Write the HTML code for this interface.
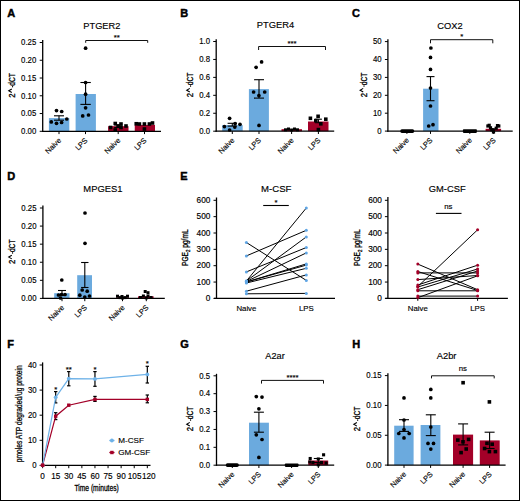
<!DOCTYPE html><html><head><meta charset="utf-8"><style>html,body{margin:0;padding:0;background:#fff;overflow:hidden}svg{display:block}text{font-family:"Liberation Sans",sans-serif;fill:#000;stroke:#000;stroke-width:0.15px}</style></head><body>
<svg width="520" height="501" viewBox="0 0 520 501">
<rect x="0" y="0" width="520" height="501" fill="#fff"/>
<text x="7.2" y="17.2" font-size="11" font-weight="bold" style="stroke-width:0.45px">A</text>
<text x="101.85" y="28.6" font-size="9.8" text-anchor="middle" textLength="37.10" lengthAdjust="spacingAndGlyphs">PTGER2</text>
<rect x="48.9" y="118.1" width="20.4" height="13.2" fill="rgb(107,170,222)"/>
<rect x="75.6" y="94" width="20.3" height="37.3" fill="rgb(107,170,222)"/>
<rect x="108.1" y="126.2" width="20.4" height="5.1" fill="rgb(163,0,40)"/>
<rect x="134.75" y="124.9" width="20.25" height="6.4" fill="rgb(163,0,40)"/>
<line x1="42.7" y1="40" x2="42.7" y2="131.9" stroke="#000" stroke-width="1.3"/>
<line x1="39.7" y1="42.5" x2="42.7" y2="42.5" stroke="#000" stroke-width="1.0"/>
<text x="36.3" y="45.25" font-size="8.2" text-anchor="end" textLength="15.18" lengthAdjust="spacingAndGlyphs">0.25</text>
<line x1="39.7" y1="60.26" x2="42.7" y2="60.26" stroke="#000" stroke-width="1.0"/>
<text x="36.3" y="63.01" font-size="8.2" text-anchor="end" textLength="15.18" lengthAdjust="spacingAndGlyphs">0.20</text>
<line x1="39.7" y1="78.02" x2="42.7" y2="78.02" stroke="#000" stroke-width="1.0"/>
<text x="36.3" y="80.77" font-size="8.2" text-anchor="end" textLength="15.18" lengthAdjust="spacingAndGlyphs">0.15</text>
<line x1="39.7" y1="95.78" x2="42.7" y2="95.78" stroke="#000" stroke-width="1.0"/>
<text x="36.3" y="98.53" font-size="8.2" text-anchor="end" textLength="15.18" lengthAdjust="spacingAndGlyphs">0.10</text>
<line x1="39.7" y1="113.54" x2="42.7" y2="113.54" stroke="#000" stroke-width="1.0"/>
<text x="36.3" y="116.29" font-size="8.2" text-anchor="end" textLength="15.18" lengthAdjust="spacingAndGlyphs">0.05</text>
<line x1="39.7" y1="131.3" x2="42.7" y2="131.3" stroke="#000" stroke-width="1.0"/>
<text x="36.3" y="134.05" font-size="8.2" text-anchor="end" textLength="15.18" lengthAdjust="spacingAndGlyphs">0.00</text>
<line x1="42.1" y1="131.3" x2="161" y2="131.3" stroke="#000" stroke-width="1.3"/>
<g transform="translate(15.3 97.45) rotate(-90)">
<text x="-0.3" y="0" font-size="9.2" style="stroke-width:0.3px" textLength="4.3" lengthAdjust="spacingAndGlyphs">2</text>
<path d="M4.9 -3.5 L6.7 -6.6 L8.5 -3.5" fill="none" stroke="#000" style="stroke-width:1.05px"/>
<path d="M10.1 -2.7 H11.6" fill="none" stroke="#000" style="stroke-width:1.0px"/>
<text x="11.7" y="0" font-size="9.2" style="stroke-width:0.3px" textLength="12.6" lengthAdjust="spacingAndGlyphs">dCT</text>
</g>
<line x1="59" y1="131.3" x2="59" y2="134.1" stroke="#000" stroke-width="1.0"/>
<text x="61.6" y="140.9" font-size="7.4" text-anchor="end" font-weight="normal" transform="rotate(-45 61.6 140.9)">Naive</text>
<line x1="85.5" y1="131.3" x2="85.5" y2="134.1" stroke="#000" stroke-width="1.0"/>
<text x="88.1" y="140.9" font-size="7.4" text-anchor="end" font-weight="normal" transform="rotate(-45 88.1 140.9)">LPS</text>
<line x1="118.2" y1="131.3" x2="118.2" y2="134.1" stroke="#000" stroke-width="1.0"/>
<text x="120.8" y="140.9" font-size="7.4" text-anchor="end" font-weight="normal" transform="rotate(-45 120.8 140.9)">Naive</text>
<line x1="144.5" y1="131.3" x2="144.5" y2="134.1" stroke="#000" stroke-width="1.0"/>
<text x="147.1" y="140.9" font-size="7.4" text-anchor="end" font-weight="normal" transform="rotate(-45 147.1 140.9)">LPS</text>
<circle cx="56.5" cy="110.6" r="1.85" fill="#000"/>
<circle cx="61.7" cy="111.5" r="1.85" fill="#000"/>
<circle cx="66.8" cy="119" r="1.85" fill="#000"/>
<circle cx="51.3" cy="121.9" r="1.85" fill="#000"/>
<circle cx="56.5" cy="123.3" r="1.85" fill="#000"/>
<circle cx="61.6" cy="122.5" r="1.85" fill="#000"/>
<line x1="59" y1="115.8" x2="59" y2="120.2" stroke="#000" stroke-width="1.1"/>
<line x1="54" y1="115.8" x2="64" y2="115.8" stroke="#000" stroke-width="1.1"/>
<line x1="54" y1="120.2" x2="64" y2="120.2" stroke="#000" stroke-width="1.1"/>
<circle cx="85.6" cy="48.2" r="1.85" fill="#000"/>
<circle cx="85.6" cy="82.5" r="1.85" fill="#000"/>
<circle cx="85.6" cy="94.2" r="1.85" fill="#000"/>
<circle cx="85.6" cy="107.8" r="1.85" fill="#000"/>
<circle cx="82.7" cy="115.9" r="1.85" fill="#000"/>
<circle cx="88.5" cy="115" r="1.85" fill="#000"/>
<line x1="85.6" y1="82.5" x2="85.6" y2="104.4" stroke="#000" stroke-width="1.1"/>
<line x1="80.4" y1="82.5" x2="90.8" y2="82.5" stroke="#000" stroke-width="1.1"/>
<line x1="80.4" y1="104.4" x2="90.8" y2="104.4" stroke="#000" stroke-width="1.1"/>
<rect x="108.8" y="125.7" width="3.6" height="3.6" fill="#000"/>
<rect x="113.45" y="121.7" width="3.6" height="3.6" fill="#000"/>
<rect x="113.45" y="128.2" width="3.6" height="3.6" fill="#000"/>
<rect x="116.3" y="124.2" width="3.6" height="3.6" fill="#000"/>
<rect x="119.2" y="122.2" width="3.6" height="3.6" fill="#000"/>
<rect x="119.2" y="125.7" width="3.6" height="3.6" fill="#000"/>
<rect x="124.2" y="124.2" width="3.6" height="3.6" fill="#000"/>
<line x1="118.2" y1="125" x2="118.2" y2="127.5" stroke="#000" stroke-width="1.1"/>
<line x1="114.2" y1="125" x2="122.2" y2="125" stroke="#000" stroke-width="1.1"/>
<line x1="114.2" y1="127.5" x2="122.2" y2="127.5" stroke="#000" stroke-width="1.1"/>
<rect x="134.45" y="121.95" width="3.6" height="3.6" fill="#000"/>
<rect x="137.6" y="122.2" width="3.6" height="3.6" fill="#000"/>
<rect x="142.6" y="122.2" width="3.6" height="3.6" fill="#000"/>
<rect x="142.6" y="127.2" width="3.6" height="3.6" fill="#000"/>
<rect x="147.6" y="122.2" width="3.6" height="3.6" fill="#000"/>
<rect x="150.7" y="121.2" width="3.6" height="3.6" fill="#000"/>
<path d="M85.7 42.8 V40.5 H147.7 V42.8" fill="none" stroke="#111" stroke-width="1.0"/>
<text x="116.7" y="40.2" font-size="7.8" text-anchor="middle" font-weight="normal">**</text>
<text x="180.3" y="17" font-size="11" font-weight="bold" style="stroke-width:0.45px">B</text>
<text x="275.45" y="28.4" font-size="9.8" text-anchor="middle" textLength="37.50" lengthAdjust="spacingAndGlyphs">PTGER4</text>
<rect x="222.2" y="125.1" width="20.5" height="6.1" fill="rgb(107,170,222)"/>
<rect x="248.9" y="89.1" width="20" height="42.1" fill="rgb(107,170,222)"/>
<rect x="281.5" y="129.2" width="20.5" height="2" fill="rgb(163,0,40)"/>
<rect x="308" y="121.5" width="20.5" height="9.7" fill="rgb(163,0,40)"/>
<line x1="216.2" y1="39.2" x2="216.2" y2="131.8" stroke="#000" stroke-width="1.3"/>
<line x1="213.2" y1="41.5" x2="216.2" y2="41.5" stroke="#000" stroke-width="1.0"/>
<text x="210" y="44.25" font-size="8.2" text-anchor="end" textLength="10.84" lengthAdjust="spacingAndGlyphs">1.0</text>
<line x1="213.2" y1="59.44" x2="216.2" y2="59.44" stroke="#000" stroke-width="1.0"/>
<text x="210" y="62.19" font-size="8.2" text-anchor="end" textLength="10.84" lengthAdjust="spacingAndGlyphs">0.8</text>
<line x1="213.2" y1="77.38" x2="216.2" y2="77.38" stroke="#000" stroke-width="1.0"/>
<text x="210" y="80.13" font-size="8.2" text-anchor="end" textLength="10.84" lengthAdjust="spacingAndGlyphs">0.6</text>
<line x1="213.2" y1="95.32" x2="216.2" y2="95.32" stroke="#000" stroke-width="1.0"/>
<text x="210" y="98.07" font-size="8.2" text-anchor="end" textLength="10.84" lengthAdjust="spacingAndGlyphs">0.4</text>
<line x1="213.2" y1="113.26" x2="216.2" y2="113.26" stroke="#000" stroke-width="1.0"/>
<text x="210" y="116.01" font-size="8.2" text-anchor="end" textLength="10.84" lengthAdjust="spacingAndGlyphs">0.2</text>
<line x1="213.2" y1="131.2" x2="216.2" y2="131.2" stroke="#000" stroke-width="1.0"/>
<text x="210" y="133.95" font-size="8.2" text-anchor="end" textLength="10.84" lengthAdjust="spacingAndGlyphs">0.0</text>
<line x1="215.6" y1="131.2" x2="334.2" y2="131.2" stroke="#000" stroke-width="1.3"/>
<g transform="translate(193.3 96.9) rotate(-90)">
<text x="-0.3" y="0" font-size="9.2" style="stroke-width:0.3px" textLength="4.3" lengthAdjust="spacingAndGlyphs">2</text>
<path d="M4.9 -3.5 L6.7 -6.6 L8.5 -3.5" fill="none" stroke="#000" style="stroke-width:1.05px"/>
<path d="M10.1 -2.7 H11.6" fill="none" stroke="#000" style="stroke-width:1.0px"/>
<text x="11.7" y="0" font-size="9.2" style="stroke-width:0.3px" textLength="12.6" lengthAdjust="spacingAndGlyphs">dCT</text>
</g>
<line x1="232.3" y1="131.2" x2="232.3" y2="134" stroke="#000" stroke-width="1.0"/>
<text x="234.9" y="140.8" font-size="7.4" text-anchor="end" font-weight="normal" transform="rotate(-45 234.9 140.8)">Naive</text>
<line x1="259" y1="131.2" x2="259" y2="134" stroke="#000" stroke-width="1.0"/>
<text x="261.6" y="140.8" font-size="7.4" text-anchor="end" font-weight="normal" transform="rotate(-45 261.6 140.8)">LPS</text>
<line x1="291.6" y1="131.2" x2="291.6" y2="134" stroke="#000" stroke-width="1.0"/>
<text x="294.2" y="140.8" font-size="7.4" text-anchor="end" font-weight="normal" transform="rotate(-45 294.2 140.8)">Naive</text>
<line x1="318.4" y1="131.2" x2="318.4" y2="134" stroke="#000" stroke-width="1.0"/>
<text x="321" y="140.8" font-size="7.4" text-anchor="end" font-weight="normal" transform="rotate(-45 321 140.8)">LPS</text>
<circle cx="229.6" cy="118.3" r="1.85" fill="#000"/>
<circle cx="224.4" cy="126.6" r="1.85" fill="#000"/>
<circle cx="229.6" cy="130" r="1.85" fill="#000"/>
<circle cx="235.1" cy="123.5" r="1.85" fill="#000"/>
<circle cx="240" cy="124.3" r="1.85" fill="#000"/>
<circle cx="234.8" cy="127.1" r="1.85" fill="#000"/>
<line x1="232.3" y1="123.3" x2="232.3" y2="126.1" stroke="#000" stroke-width="1.1"/>
<line x1="227.6" y1="123.3" x2="237" y2="123.3" stroke="#000" stroke-width="1.1"/>
<line x1="227.6" y1="126.1" x2="237" y2="126.1" stroke="#000" stroke-width="1.1"/>
<circle cx="256.1" cy="67.3" r="1.85" fill="#000"/>
<circle cx="261.6" cy="61.9" r="1.85" fill="#000"/>
<circle cx="253.6" cy="92" r="1.85" fill="#000"/>
<circle cx="258.9" cy="95.6" r="1.85" fill="#000"/>
<circle cx="264.7" cy="92" r="1.85" fill="#000"/>
<circle cx="259" cy="125.4" r="1.85" fill="#000"/>
<line x1="259" y1="79.7" x2="259" y2="98.1" stroke="#000" stroke-width="1.1"/>
<line x1="254" y1="79.7" x2="264" y2="79.7" stroke="#000" stroke-width="1.1"/>
<line x1="254" y1="98.1" x2="264" y2="98.1" stroke="#000" stroke-width="1.1"/>
<rect x="284" y="128.3" width="3.0" height="3.0" fill="#000"/>
<rect x="287" y="127.5" width="3.0" height="3.0" fill="#000"/>
<rect x="290.1" y="128.5" width="3.0" height="3.0" fill="#000"/>
<rect x="293" y="127.5" width="3.0" height="3.0" fill="#000"/>
<rect x="296" y="128.3" width="3.0" height="3.0" fill="#000"/>
<rect x="308.6" y="116.5" width="3.6" height="3.6" fill="#000"/>
<rect x="316.3" y="114.5" width="3.6" height="3.6" fill="#000"/>
<rect x="324" y="117.4" width="3.6" height="3.6" fill="#000"/>
<rect x="314" y="118.8" width="3.6" height="3.6" fill="#000"/>
<rect x="319" y="122" width="3.6" height="3.6" fill="#000"/>
<rect x="316.6" y="127.8" width="3.6" height="3.6" fill="#000"/>
<line x1="318.4" y1="119.2" x2="318.4" y2="122.7" stroke="#000" stroke-width="1.1"/>
<line x1="314.9" y1="119.2" x2="321.9" y2="119.2" stroke="#000" stroke-width="1.1"/>
<line x1="314.9" y1="122.7" x2="321.9" y2="122.7" stroke="#000" stroke-width="1.1"/>
<path d="M258.6 50 V46.5 H325.5 V50" fill="none" stroke="#111" stroke-width="1.0"/>
<text x="292.05" y="46.2" font-size="7.8" text-anchor="middle" font-weight="normal">***</text>
<text x="352" y="17" font-size="11" font-weight="bold" style="stroke-width:0.45px">C</text>
<text x="450" y="28.7" font-size="9.8" text-anchor="middle" textLength="25.40" lengthAdjust="spacingAndGlyphs">COX2</text>
<rect x="423.1" y="88.7" width="15.4" height="42.4" fill="rgb(107,170,222)"/>
<rect x="485.6" y="128.8" width="15.5" height="2.3" fill="rgb(163,0,40)"/>
<line x1="387.9" y1="39.2" x2="387.9" y2="131.7" stroke="#000" stroke-width="1.3"/>
<line x1="384.9" y1="41.6" x2="387.9" y2="41.6" stroke="#000" stroke-width="1.0"/>
<text x="381.6" y="44.35" font-size="8.2" text-anchor="end" textLength="8.68" lengthAdjust="spacingAndGlyphs">50</text>
<line x1="384.9" y1="59.5" x2="387.9" y2="59.5" stroke="#000" stroke-width="1.0"/>
<text x="381.6" y="62.25" font-size="8.2" text-anchor="end" textLength="8.68" lengthAdjust="spacingAndGlyphs">40</text>
<line x1="384.9" y1="77.4" x2="387.9" y2="77.4" stroke="#000" stroke-width="1.0"/>
<text x="381.6" y="80.15" font-size="8.2" text-anchor="end" textLength="8.68" lengthAdjust="spacingAndGlyphs">30</text>
<line x1="384.9" y1="95.3" x2="387.9" y2="95.3" stroke="#000" stroke-width="1.0"/>
<text x="381.6" y="98.05" font-size="8.2" text-anchor="end" textLength="8.68" lengthAdjust="spacingAndGlyphs">20</text>
<line x1="384.9" y1="113.2" x2="387.9" y2="113.2" stroke="#000" stroke-width="1.0"/>
<text x="381.6" y="115.95" font-size="8.2" text-anchor="end" textLength="8.68" lengthAdjust="spacingAndGlyphs">10</text>
<line x1="384.9" y1="131.1" x2="387.9" y2="131.1" stroke="#000" stroke-width="1.0"/>
<text x="381.6" y="133.85" font-size="8.2" text-anchor="end" textLength="4.34" lengthAdjust="spacingAndGlyphs">0</text>
<line x1="387.3" y1="131.1" x2="512.7" y2="131.1" stroke="#000" stroke-width="1.3"/>
<g transform="translate(366.7 96.9) rotate(-90)">
<text x="-0.3" y="0" font-size="9.2" style="stroke-width:0.3px" textLength="4.3" lengthAdjust="spacingAndGlyphs">2</text>
<path d="M4.9 -3.5 L6.7 -6.6 L8.5 -3.5" fill="none" stroke="#000" style="stroke-width:1.05px"/>
<path d="M10.1 -2.7 H11.6" fill="none" stroke="#000" style="stroke-width:1.0px"/>
<text x="11.7" y="0" font-size="9.2" style="stroke-width:0.3px" textLength="12.6" lengthAdjust="spacingAndGlyphs">dCT</text>
</g>
<line x1="406.9" y1="131.1" x2="406.9" y2="133.9" stroke="#000" stroke-width="1.0"/>
<text x="409.5" y="140.7" font-size="7.4" text-anchor="end" font-weight="normal" transform="rotate(-45 409.5 140.7)">Naive</text>
<line x1="430.5" y1="131.1" x2="430.5" y2="133.9" stroke="#000" stroke-width="1.0"/>
<text x="433.1" y="140.7" font-size="7.4" text-anchor="end" font-weight="normal" transform="rotate(-45 433.1 140.7)">LPS</text>
<line x1="469.8" y1="131.1" x2="469.8" y2="133.9" stroke="#000" stroke-width="1.0"/>
<text x="472.4" y="140.7" font-size="7.4" text-anchor="end" font-weight="normal" transform="rotate(-45 472.4 140.7)">Naive</text>
<line x1="493.6" y1="131.1" x2="493.6" y2="133.9" stroke="#000" stroke-width="1.0"/>
<text x="496.2" y="140.7" font-size="7.4" text-anchor="end" font-weight="normal" transform="rotate(-45 496.2 140.7)">LPS</text>
<rect x="400.3" y="129.2" width="13.9" height="3.7" rx="1.6" fill="#000"/>
<circle cx="430.9" cy="48" r="1.85" fill="#000"/>
<circle cx="430.5" cy="57.4" r="1.85" fill="#000"/>
<circle cx="430.5" cy="69.4" r="1.85" fill="#000"/>
<circle cx="430.5" cy="88" r="1.85" fill="#000"/>
<circle cx="430.5" cy="106" r="1.85" fill="#000"/>
<circle cx="428.7" cy="126" r="1.85" fill="#000"/>
<circle cx="433" cy="124.7" r="1.85" fill="#000"/>
<line x1="430.5" y1="76.6" x2="430.5" y2="100.7" stroke="#000" stroke-width="1.1"/>
<line x1="426.5" y1="76.6" x2="434.5" y2="76.6" stroke="#000" stroke-width="1.1"/>
<line x1="426.5" y1="100.7" x2="434.5" y2="100.7" stroke="#000" stroke-width="1.1"/>
<rect x="462.9" y="129.3" width="14" height="3.6" rx="0.8" fill="#000"/>
<rect x="486.3" y="124.4" width="3.2" height="3.2" fill="#000"/>
<rect x="488.9" y="126.2" width="3.2" height="3.2" fill="#000"/>
<rect x="491.7" y="128.2" width="3.2" height="3.2" fill="#000"/>
<rect x="491.9" y="130.4" width="3.2" height="3.2" fill="#000"/>
<rect x="494.6" y="126.6" width="3.2" height="3.2" fill="#000"/>
<rect x="497.2" y="124.4" width="3.2" height="3.2" fill="#000"/>
<rect x="487.6" y="123.7" width="3.2" height="3.2" fill="#000"/>
<rect x="490.2" y="128.2" width="3.2" height="3.2" fill="#000"/>
<rect x="495.9" y="124" width="3.2" height="3.2" fill="#000"/>
<path d="M430.5 43.3 V39.7 H492.8 V43.3" fill="none" stroke="#111" stroke-width="1.0"/>
<text x="461.65" y="39.4" font-size="7.8" text-anchor="middle" font-weight="normal">*</text>
<text x="7.3" y="180.2" font-size="11" font-weight="bold" style="stroke-width:0.45px">D</text>
<text x="102.9" y="191.9" font-size="9.8" text-anchor="middle" textLength="39.20" lengthAdjust="spacingAndGlyphs">MPGES1</text>
<rect x="54.2" y="293.2" width="15.3" height="5.2" fill="rgb(107,170,222)"/>
<rect x="77.2" y="275.2" width="14.8" height="23.2" fill="rgb(107,170,222)"/>
<rect x="116.3" y="297.4" width="12.5" height="1" fill="rgb(163,0,40)"/>
<rect x="138" y="296.3" width="15.6" height="2.1" fill="rgb(163,0,40)"/>
<line x1="42.9" y1="205.5" x2="42.9" y2="299" stroke="#000" stroke-width="1.3"/>
<line x1="39.9" y1="208" x2="42.9" y2="208" stroke="#000" stroke-width="1.0"/>
<text x="36.5" y="210.75" font-size="8.2" text-anchor="end" textLength="15.18" lengthAdjust="spacingAndGlyphs">0.25</text>
<line x1="39.9" y1="226.08" x2="42.9" y2="226.08" stroke="#000" stroke-width="1.0"/>
<text x="36.5" y="228.83" font-size="8.2" text-anchor="end" textLength="15.18" lengthAdjust="spacingAndGlyphs">0.20</text>
<line x1="39.9" y1="244.16" x2="42.9" y2="244.16" stroke="#000" stroke-width="1.0"/>
<text x="36.5" y="246.91" font-size="8.2" text-anchor="end" textLength="15.18" lengthAdjust="spacingAndGlyphs">0.15</text>
<line x1="39.9" y1="262.24" x2="42.9" y2="262.24" stroke="#000" stroke-width="1.0"/>
<text x="36.5" y="264.99" font-size="8.2" text-anchor="end" textLength="15.18" lengthAdjust="spacingAndGlyphs">0.10</text>
<line x1="39.9" y1="280.32" x2="42.9" y2="280.32" stroke="#000" stroke-width="1.0"/>
<text x="36.5" y="283.07" font-size="8.2" text-anchor="end" textLength="15.18" lengthAdjust="spacingAndGlyphs">0.05</text>
<line x1="39.9" y1="298.4" x2="42.9" y2="298.4" stroke="#000" stroke-width="1.0"/>
<text x="36.5" y="301.15" font-size="8.2" text-anchor="end" textLength="15.18" lengthAdjust="spacingAndGlyphs">0.00</text>
<line x1="42.3" y1="298.4" x2="164.8" y2="298.4" stroke="#000" stroke-width="1.3"/>
<g transform="translate(15.3 263.8) rotate(-90)">
<text x="-0.3" y="0" font-size="9.2" style="stroke-width:0.3px" textLength="4.3" lengthAdjust="spacingAndGlyphs">2</text>
<path d="M4.9 -3.5 L6.7 -6.6 L8.5 -3.5" fill="none" stroke="#000" style="stroke-width:1.05px"/>
<path d="M10.1 -2.7 H11.6" fill="none" stroke="#000" style="stroke-width:1.0px"/>
<text x="11.7" y="0" font-size="9.2" style="stroke-width:0.3px" textLength="12.6" lengthAdjust="spacingAndGlyphs">dCT</text>
</g>
<line x1="62" y1="298.4" x2="62" y2="301.2" stroke="#000" stroke-width="1.0"/>
<text x="64.6" y="308" font-size="7.4" text-anchor="end" font-weight="normal" transform="rotate(-45 64.6 308)">Naive</text>
<line x1="84.8" y1="298.4" x2="84.8" y2="301.2" stroke="#000" stroke-width="1.0"/>
<text x="87.4" y="308" font-size="7.4" text-anchor="end" font-weight="normal" transform="rotate(-45 87.4 308)">LPS</text>
<line x1="122.5" y1="298.4" x2="122.5" y2="301.2" stroke="#000" stroke-width="1.0"/>
<text x="125.1" y="308" font-size="7.4" text-anchor="end" font-weight="normal" transform="rotate(-45 125.1 308)">Naive</text>
<line x1="146.3" y1="298.4" x2="146.3" y2="301.2" stroke="#000" stroke-width="1.0"/>
<text x="148.9" y="308" font-size="7.4" text-anchor="end" font-weight="normal" transform="rotate(-45 148.9 308)">LPS</text>
<circle cx="61.8" cy="280" r="1.85" fill="#000"/>
<circle cx="58.5" cy="295" r="1.85" fill="#000"/>
<circle cx="61.5" cy="294.5" r="1.85" fill="#000"/>
<circle cx="65" cy="294.5" r="1.85" fill="#000"/>
<circle cx="60.5" cy="298" r="1.85" fill="#000"/>
<line x1="62" y1="290.5" x2="62" y2="295.5" stroke="#000" stroke-width="1.1"/>
<line x1="58" y1="290.5" x2="66" y2="290.5" stroke="#000" stroke-width="1.1"/>
<line x1="58" y1="295.5" x2="66" y2="295.5" stroke="#000" stroke-width="1.1"/>
<circle cx="85" cy="213" r="1.85" fill="#000"/>
<circle cx="85" cy="243.3" r="1.85" fill="#000"/>
<circle cx="82.2" cy="290" r="1.85" fill="#000"/>
<circle cx="87.2" cy="291.2" r="1.85" fill="#000"/>
<circle cx="79.8" cy="295.2" r="1.85" fill="#000"/>
<circle cx="84.8" cy="297" r="1.85" fill="#000"/>
<circle cx="89.5" cy="296" r="1.85" fill="#000"/>
<line x1="84.8" y1="262.5" x2="84.8" y2="287.5" stroke="#000" stroke-width="1.1"/>
<line x1="81.1" y1="262.5" x2="88.5" y2="262.5" stroke="#000" stroke-width="1.1"/>
<line x1="81.1" y1="287.5" x2="88.5" y2="287.5" stroke="#000" stroke-width="1.1"/>
<rect x="116" y="294.7" width="3.0" height="3.0" fill="#000"/>
<rect x="118.5" y="296.1" width="3.0" height="3.0" fill="#000"/>
<rect x="121" y="296.5" width="3.0" height="3.0" fill="#000"/>
<rect x="123.5" y="296.1" width="3.0" height="3.0" fill="#000"/>
<rect x="126" y="294.7" width="3.0" height="3.0" fill="#000"/>
<rect x="120.5" y="295" width="3.0" height="3.0" fill="#000"/>
<rect x="143.7" y="290" width="3.0" height="3.0" fill="#000"/>
<rect x="146.5" y="291.2" width="3.0" height="3.0" fill="#000"/>
<rect x="141.9" y="294.5" width="3.0" height="3.0" fill="#000"/>
<rect x="146.5" y="294.5" width="3.0" height="3.0" fill="#000"/>
<rect x="144.8" y="296.4" width="3.0" height="3.0" fill="#000"/>
<rect x="139" y="296" width="3.0" height="3.0" fill="#000"/>
<rect x="149.5" y="296" width="3.0" height="3.0" fill="#000"/>
<text x="180.3" y="180.4" font-size="11" font-weight="bold" style="stroke-width:0.45px">E</text>
<line x1="216.5" y1="197.5" x2="216.5" y2="299" stroke="#000" stroke-width="1.3"/>
<line x1="213.5" y1="200.3" x2="216.5" y2="200.3" stroke="#000" stroke-width="1.0"/>
<text x="210.4" y="203.05" font-size="8.2" text-anchor="end" textLength="13.85" lengthAdjust="spacingAndGlyphs">600</text>
<line x1="213.5" y1="216.65" x2="216.5" y2="216.65" stroke="#000" stroke-width="1.0"/>
<text x="210.4" y="219.4" font-size="8.2" text-anchor="end" textLength="13.85" lengthAdjust="spacingAndGlyphs">500</text>
<line x1="213.5" y1="233" x2="216.5" y2="233" stroke="#000" stroke-width="1.0"/>
<text x="210.4" y="235.75" font-size="8.2" text-anchor="end" textLength="13.85" lengthAdjust="spacingAndGlyphs">400</text>
<line x1="213.5" y1="249.35" x2="216.5" y2="249.35" stroke="#000" stroke-width="1.0"/>
<text x="210.4" y="252.1" font-size="8.2" text-anchor="end" textLength="13.85" lengthAdjust="spacingAndGlyphs">300</text>
<line x1="213.5" y1="265.7" x2="216.5" y2="265.7" stroke="#000" stroke-width="1.0"/>
<text x="210.4" y="268.45" font-size="8.2" text-anchor="end" textLength="13.85" lengthAdjust="spacingAndGlyphs">200</text>
<line x1="213.5" y1="282.05" x2="216.5" y2="282.05" stroke="#000" stroke-width="1.0"/>
<text x="210.4" y="284.8" font-size="8.2" text-anchor="end" textLength="13.85" lengthAdjust="spacingAndGlyphs">100</text>
<line x1="213.5" y1="298.4" x2="216.5" y2="298.4" stroke="#000" stroke-width="1.0"/>
<text x="210.4" y="301.15" font-size="8.2" text-anchor="end" textLength="4.62" lengthAdjust="spacingAndGlyphs">0</text>
<line x1="213.9" y1="298.4" x2="335" y2="298.4" stroke="#000" stroke-width="1.3"/>
<text x="246.4" y="311.2" font-size="7.8" text-anchor="middle" font-weight="normal">Naive</text>
<text x="306.3" y="311.2" font-size="7.8" text-anchor="middle" font-weight="normal">LPS</text>
<text x="276.25" y="192" font-size="9.8" text-anchor="middle" textLength="30.40" lengthAdjust="spacingAndGlyphs">M-CSF</text>
<text x="188.2" y="247.7" font-size="9" text-anchor="middle" style="stroke-width:0.3px" transform="rotate(-90 188.2 247.7)" textLength="36.5" lengthAdjust="spacingAndGlyphs">PGE<tspan font-size="6" dy="1.8">2</tspan><tspan dy="-1.8"> pg/mL</tspan></text>
<line x1="246.4" y1="242.5" x2="306.3" y2="280.4" stroke="#000" stroke-width="1.0"/>
<line x1="246.4" y1="255.9" x2="306.3" y2="230.3" stroke="#000" stroke-width="1.0"/>
<line x1="246.4" y1="271.9" x2="306.3" y2="247.5" stroke="#000" stroke-width="1.0"/>
<line x1="246.4" y1="281" x2="306.3" y2="208" stroke="#000" stroke-width="1.0"/>
<line x1="246.4" y1="281" x2="306.3" y2="236.9" stroke="#000" stroke-width="1.0"/>
<line x1="246.4" y1="281.5" x2="306.3" y2="252.9" stroke="#000" stroke-width="1.0"/>
<line x1="246.4" y1="282" x2="306.3" y2="263.9" stroke="#000" stroke-width="1.0"/>
<line x1="246.4" y1="282" x2="306.3" y2="265.1" stroke="#000" stroke-width="1.0"/>
<line x1="246.4" y1="283" x2="306.3" y2="268.3" stroke="#000" stroke-width="1.0"/>
<line x1="246.4" y1="291.2" x2="306.3" y2="274.9" stroke="#000" stroke-width="1.0"/>
<line x1="246.4" y1="293.8" x2="306.3" y2="293.4" stroke="#000" stroke-width="1.0"/>
<circle cx="246.4" cy="242.5" r="1.5" fill="rgb(95,165,228)"/>
<circle cx="306.3" cy="280.4" r="1.5" fill="rgb(95,165,228)"/>
<circle cx="246.4" cy="255.9" r="1.5" fill="rgb(95,165,228)"/>
<circle cx="306.3" cy="230.3" r="1.5" fill="rgb(95,165,228)"/>
<circle cx="246.4" cy="271.9" r="1.5" fill="rgb(95,165,228)"/>
<circle cx="306.3" cy="247.5" r="1.5" fill="rgb(95,165,228)"/>
<circle cx="246.4" cy="281" r="1.5" fill="rgb(95,165,228)"/>
<circle cx="306.3" cy="208" r="1.5" fill="rgb(95,165,228)"/>
<circle cx="246.4" cy="281" r="1.5" fill="rgb(95,165,228)"/>
<circle cx="306.3" cy="236.9" r="1.5" fill="rgb(95,165,228)"/>
<circle cx="246.4" cy="281.5" r="1.5" fill="rgb(95,165,228)"/>
<circle cx="306.3" cy="252.9" r="1.5" fill="rgb(95,165,228)"/>
<circle cx="246.4" cy="282" r="1.5" fill="rgb(95,165,228)"/>
<circle cx="306.3" cy="263.9" r="1.5" fill="rgb(95,165,228)"/>
<circle cx="246.4" cy="282" r="1.5" fill="rgb(95,165,228)"/>
<circle cx="306.3" cy="265.1" r="1.5" fill="rgb(95,165,228)"/>
<circle cx="246.4" cy="283" r="1.5" fill="rgb(95,165,228)"/>
<circle cx="306.3" cy="268.3" r="1.5" fill="rgb(95,165,228)"/>
<circle cx="246.4" cy="291.2" r="1.5" fill="rgb(95,165,228)"/>
<circle cx="306.3" cy="274.9" r="1.5" fill="rgb(95,165,228)"/>
<circle cx="246.4" cy="293.8" r="1.5" fill="rgb(95,165,228)"/>
<circle cx="306.3" cy="293.4" r="1.5" fill="rgb(95,165,228)"/>
<line x1="263.2" y1="205.5" x2="288.8" y2="205.5" stroke="#000" stroke-width="1.1"/>
<text x="276" y="205" font-size="7.8" text-anchor="middle" font-weight="normal">*</text>
<line x1="387.9" y1="197" x2="387.9" y2="299" stroke="#000" stroke-width="1.3"/>
<line x1="384.9" y1="200.3" x2="387.9" y2="200.3" stroke="#000" stroke-width="1.0"/>
<text x="382" y="203.05" font-size="8.2" text-anchor="end" textLength="13.85" lengthAdjust="spacingAndGlyphs">600</text>
<line x1="384.9" y1="216.65" x2="387.9" y2="216.65" stroke="#000" stroke-width="1.0"/>
<text x="382" y="219.4" font-size="8.2" text-anchor="end" textLength="13.85" lengthAdjust="spacingAndGlyphs">500</text>
<line x1="384.9" y1="233" x2="387.9" y2="233" stroke="#000" stroke-width="1.0"/>
<text x="382" y="235.75" font-size="8.2" text-anchor="end" textLength="13.85" lengthAdjust="spacingAndGlyphs">400</text>
<line x1="384.9" y1="249.35" x2="387.9" y2="249.35" stroke="#000" stroke-width="1.0"/>
<text x="382" y="252.1" font-size="8.2" text-anchor="end" textLength="13.85" lengthAdjust="spacingAndGlyphs">300</text>
<line x1="384.9" y1="265.7" x2="387.9" y2="265.7" stroke="#000" stroke-width="1.0"/>
<text x="382" y="268.45" font-size="8.2" text-anchor="end" textLength="13.85" lengthAdjust="spacingAndGlyphs">200</text>
<line x1="384.9" y1="282.05" x2="387.9" y2="282.05" stroke="#000" stroke-width="1.0"/>
<text x="382" y="284.8" font-size="8.2" text-anchor="end" textLength="13.85" lengthAdjust="spacingAndGlyphs">100</text>
<line x1="384.9" y1="298.4" x2="387.9" y2="298.4" stroke="#000" stroke-width="1.0"/>
<text x="382" y="301.15" font-size="8.2" text-anchor="end" textLength="4.62" lengthAdjust="spacingAndGlyphs">0</text>
<line x1="385.3" y1="298.4" x2="507.9" y2="298.4" stroke="#000" stroke-width="1.3"/>
<text x="417.8" y="311.2" font-size="7.8" text-anchor="middle" font-weight="normal">Naive</text>
<text x="477.6" y="311.2" font-size="7.8" text-anchor="middle" font-weight="normal">LPS</text>
<text x="447.25" y="192" font-size="9.8" text-anchor="middle" textLength="36.90" lengthAdjust="spacingAndGlyphs">GM-CSF</text>
<text x="359.8" y="247.7" font-size="9" text-anchor="middle" style="stroke-width:0.3px" transform="rotate(-90 359.8 247.7)" textLength="36.5" lengthAdjust="spacingAndGlyphs">PGE<tspan font-size="6" dy="1.8">2</tspan><tspan dy="-1.8"> pg/mL</tspan></text>
<line x1="417.8" y1="264.1" x2="477.6" y2="289.7" stroke="#000" stroke-width="1.0"/>
<line x1="417.8" y1="271.5" x2="477.6" y2="290.5" stroke="#000" stroke-width="1.0"/>
<line x1="417.8" y1="272.9" x2="477.6" y2="272.9" stroke="#000" stroke-width="1.0"/>
<line x1="417.8" y1="279.6" x2="477.6" y2="275.5" stroke="#000" stroke-width="1.0"/>
<line x1="417.8" y1="285" x2="477.6" y2="265.2" stroke="#000" stroke-width="1.0"/>
<line x1="417.8" y1="286.5" x2="477.6" y2="229.8" stroke="#000" stroke-width="1.0"/>
<line x1="417.8" y1="287" x2="477.6" y2="269" stroke="#000" stroke-width="1.0"/>
<line x1="417.8" y1="289.7" x2="477.6" y2="271" stroke="#000" stroke-width="1.0"/>
<line x1="417.8" y1="290.8" x2="477.6" y2="290.8" stroke="#000" stroke-width="1.0"/>
<line x1="417.8" y1="296.1" x2="477.6" y2="296.1" stroke="#000" stroke-width="1.0"/>
<line x1="417.8" y1="297.7" x2="477.6" y2="275.8" stroke="#000" stroke-width="1.0"/>
<circle cx="417.8" cy="264.1" r="1.5" fill="rgb(163,0,40)"/>
<circle cx="477.6" cy="289.7" r="1.5" fill="rgb(163,0,40)"/>
<circle cx="417.8" cy="271.5" r="1.5" fill="rgb(163,0,40)"/>
<circle cx="477.6" cy="290.5" r="1.5" fill="rgb(163,0,40)"/>
<circle cx="417.8" cy="272.9" r="1.5" fill="rgb(163,0,40)"/>
<circle cx="477.6" cy="272.9" r="1.5" fill="rgb(163,0,40)"/>
<circle cx="417.8" cy="279.6" r="1.5" fill="rgb(163,0,40)"/>
<circle cx="477.6" cy="275.5" r="1.5" fill="rgb(163,0,40)"/>
<circle cx="417.8" cy="285" r="1.5" fill="rgb(163,0,40)"/>
<circle cx="477.6" cy="265.2" r="1.5" fill="rgb(163,0,40)"/>
<circle cx="417.8" cy="286.5" r="1.5" fill="rgb(163,0,40)"/>
<circle cx="477.6" cy="229.8" r="1.5" fill="rgb(163,0,40)"/>
<circle cx="417.8" cy="287" r="1.5" fill="rgb(163,0,40)"/>
<circle cx="477.6" cy="269" r="1.5" fill="rgb(163,0,40)"/>
<circle cx="417.8" cy="289.7" r="1.5" fill="rgb(163,0,40)"/>
<circle cx="477.6" cy="271" r="1.5" fill="rgb(163,0,40)"/>
<circle cx="417.8" cy="290.8" r="1.5" fill="rgb(163,0,40)"/>
<circle cx="477.6" cy="290.8" r="1.5" fill="rgb(163,0,40)"/>
<circle cx="417.8" cy="296.1" r="1.5" fill="rgb(163,0,40)"/>
<circle cx="477.6" cy="296.1" r="1.5" fill="rgb(163,0,40)"/>
<circle cx="417.8" cy="297.7" r="1.5" fill="rgb(163,0,40)"/>
<circle cx="477.6" cy="275.8" r="1.5" fill="rgb(163,0,40)"/>
<line x1="435.9" y1="213.4" x2="461.5" y2="213.4" stroke="#000" stroke-width="1.1"/>
<text x="448.4" y="208.8" font-size="7.8" text-anchor="middle" font-weight="normal">ns</text>
<line x1="417.8" y1="298.4" x2="417.8" y2="300.8" stroke="#000" stroke-width="1.0"/>
<line x1="477.6" y1="298.4" x2="477.6" y2="300.8" stroke="#000" stroke-width="1.0"/>
<text x="7.2" y="348.2" font-size="11" font-weight="bold" style="stroke-width:0.45px">F</text>
<line x1="42.6" y1="362.4" x2="42.6" y2="466" stroke="#000" stroke-width="1.3"/>
<line x1="39.6" y1="365" x2="42.6" y2="365" stroke="#000" stroke-width="1.0"/>
<text x="36.6" y="367.75" font-size="8.2" text-anchor="end" textLength="8.68" lengthAdjust="spacingAndGlyphs">40</text>
<line x1="39.6" y1="390.1" x2="42.6" y2="390.1" stroke="#000" stroke-width="1.0"/>
<text x="36.6" y="392.85" font-size="8.2" text-anchor="end" textLength="8.68" lengthAdjust="spacingAndGlyphs">30</text>
<line x1="39.6" y1="415.2" x2="42.6" y2="415.2" stroke="#000" stroke-width="1.0"/>
<text x="36.6" y="417.95" font-size="8.2" text-anchor="end" textLength="8.68" lengthAdjust="spacingAndGlyphs">20</text>
<line x1="39.6" y1="440.3" x2="42.6" y2="440.3" stroke="#000" stroke-width="1.0"/>
<text x="36.6" y="443.05" font-size="8.2" text-anchor="end" textLength="8.68" lengthAdjust="spacingAndGlyphs">10</text>
<line x1="39.6" y1="465.4" x2="42.6" y2="465.4" stroke="#000" stroke-width="1.0"/>
<text x="36.6" y="468.15" font-size="8.2" text-anchor="end" textLength="4.34" lengthAdjust="spacingAndGlyphs">0</text>
<line x1="42" y1="465.4" x2="150.5" y2="465.4" stroke="#000" stroke-width="1.3"/>
<line x1="42.6" y1="465.4" x2="42.6" y2="468.2" stroke="#000" stroke-width="1.0"/>
<text x="42.6" y="478.5" font-size="8.2" text-anchor="middle" font-weight="normal">0</text>
<line x1="55.69" y1="465.4" x2="55.69" y2="468.2" stroke="#000" stroke-width="1.0"/>
<text x="55.69" y="478.5" font-size="8.2" text-anchor="middle" font-weight="normal">15</text>
<line x1="68.78" y1="465.4" x2="68.78" y2="468.2" stroke="#000" stroke-width="1.0"/>
<text x="68.78" y="478.5" font-size="8.2" text-anchor="middle" font-weight="normal">30</text>
<line x1="81.87" y1="465.4" x2="81.87" y2="468.2" stroke="#000" stroke-width="1.0"/>
<text x="81.87" y="478.5" font-size="8.2" text-anchor="middle" font-weight="normal">45</text>
<line x1="94.96" y1="465.4" x2="94.96" y2="468.2" stroke="#000" stroke-width="1.0"/>
<text x="94.96" y="478.5" font-size="8.2" text-anchor="middle" font-weight="normal">60</text>
<line x1="108.05" y1="465.4" x2="108.05" y2="468.2" stroke="#000" stroke-width="1.0"/>
<text x="108.05" y="478.5" font-size="8.2" text-anchor="middle" font-weight="normal">75</text>
<line x1="121.14" y1="465.4" x2="121.14" y2="468.2" stroke="#000" stroke-width="1.0"/>
<text x="121.14" y="478.5" font-size="8.2" text-anchor="middle" font-weight="normal">90</text>
<line x1="134.23" y1="465.4" x2="134.23" y2="468.2" stroke="#000" stroke-width="1.0"/>
<text x="134.63" y="478.5" font-size="8.2" text-anchor="middle" font-weight="normal">105</text>
<line x1="147.32" y1="465.4" x2="147.32" y2="468.2" stroke="#000" stroke-width="1.0"/>
<text x="148.82" y="478.5" font-size="8.2" text-anchor="middle" font-weight="normal">120</text>
<text x="96.6" y="491.2" font-size="9" text-anchor="middle" style="stroke-width:0.3px" textLength="44.3" lengthAdjust="spacingAndGlyphs">Time (minutes)</text>
<text x="21.8" y="413.8" font-size="8.3" text-anchor="middle" style="stroke-width:0.25px" transform="rotate(-90 21.8 413.8)" textLength="97" lengthAdjust="spacingAndGlyphs">pmoles ATP degraded/ug protein</text>
<line x1="55.69" y1="391.6" x2="55.69" y2="402.9" stroke="#000" stroke-width="1.2"/>
<line x1="53.99" y1="391.6" x2="57.39" y2="391.6" stroke="#000" stroke-width="1.2"/>
<line x1="53.99" y1="402.9" x2="57.39" y2="402.9" stroke="#000" stroke-width="1.2"/>
<line x1="68.78" y1="371.6" x2="68.78" y2="385.8" stroke="#000" stroke-width="1.2"/>
<line x1="67.08" y1="371.6" x2="70.48" y2="371.6" stroke="#000" stroke-width="1.2"/>
<line x1="67.08" y1="385.8" x2="70.48" y2="385.8" stroke="#000" stroke-width="1.2"/>
<line x1="94.96" y1="371.6" x2="94.96" y2="386.3" stroke="#000" stroke-width="1.2"/>
<line x1="93.26" y1="371.6" x2="96.66" y2="371.6" stroke="#000" stroke-width="1.2"/>
<line x1="93.26" y1="386.3" x2="96.66" y2="386.3" stroke="#000" stroke-width="1.2"/>
<line x1="147.32" y1="366.3" x2="147.32" y2="383" stroke="#000" stroke-width="1.2"/>
<line x1="145.62" y1="366.3" x2="149.02" y2="366.3" stroke="#000" stroke-width="1.2"/>
<line x1="145.62" y1="383" x2="149.02" y2="383" stroke="#000" stroke-width="1.2"/>
<line x1="55.69" y1="412.7" x2="55.69" y2="419.6" stroke="#000" stroke-width="1.2"/>
<line x1="53.99" y1="412.7" x2="57.39" y2="412.7" stroke="#000" stroke-width="1.2"/>
<line x1="53.99" y1="419.6" x2="57.39" y2="419.6" stroke="#000" stroke-width="1.2"/>
<line x1="94.96" y1="396.4" x2="94.96" y2="401.4" stroke="#000" stroke-width="1.2"/>
<line x1="93.26" y1="396.4" x2="96.66" y2="396.4" stroke="#000" stroke-width="1.2"/>
<line x1="93.26" y1="401.4" x2="96.66" y2="401.4" stroke="#000" stroke-width="1.2"/>
<line x1="147.32" y1="395" x2="147.32" y2="402.8" stroke="#000" stroke-width="1.2"/>
<line x1="145.62" y1="395" x2="149.02" y2="395" stroke="#000" stroke-width="1.2"/>
<line x1="145.62" y1="402.8" x2="149.02" y2="402.8" stroke="#000" stroke-width="1.2"/>
<polyline points="42.6,465.3 55.69,416.2 68.78,405.2 94.96,399.4 147.32,399.4" fill="none" stroke="rgb(163,0,40)" stroke-width="1.2"/>
<polyline points="42.6,465.3 55.69,397.3 68.78,378.6 94.96,378.9 147.32,374.4" fill="none" stroke="rgb(110,178,232)" stroke-width="1.2"/>
<rect x="40.9" y="463.6" width="3.4" height="3.4" fill="rgb(163,0,40)"/>
<rect x="53.99" y="414.5" width="3.4" height="3.4" fill="rgb(163,0,40)"/>
<rect x="67.08" y="403.5" width="3.4" height="3.4" fill="rgb(163,0,40)"/>
<rect x="93.26" y="397.7" width="3.4" height="3.4" fill="rgb(163,0,40)"/>
<rect x="145.62" y="397.7" width="3.4" height="3.4" fill="rgb(163,0,40)"/>
<circle cx="42.6" cy="465.3" r="1.9" fill="rgb(110,178,232)"/>
<circle cx="55.69" cy="397.3" r="1.9" fill="rgb(110,178,232)"/>
<circle cx="68.78" cy="378.6" r="1.9" fill="rgb(110,178,232)"/>
<circle cx="94.96" cy="378.9" r="1.9" fill="rgb(110,178,232)"/>
<circle cx="147.32" cy="374.4" r="1.9" fill="rgb(110,178,232)"/>
<circle cx="42.6" cy="465.3" r="2.0" fill="rgb(163,0,40)"/>
<text x="55.69" y="392" font-size="7.8" text-anchor="middle" font-weight="normal">*</text>
<text x="68.78" y="371.8" font-size="7.8" text-anchor="middle" font-weight="normal">**</text>
<text x="94.96" y="371.8" font-size="7.8" text-anchor="middle" font-weight="normal">*</text>
<text x="147.32" y="366.4" font-size="7.8" text-anchor="middle" font-weight="normal">*</text>
<line x1="109.3" y1="440.5" x2="114.5" y2="440.5" stroke="rgb(110,178,232)" stroke-width="1.3"/>
<circle cx="111.9" cy="440.5" r="1.9" fill="rgb(110,178,232)"/>
<text x="118.3" y="443.4" font-size="8.1" text-anchor="start" font-weight="normal">M-CSF</text>
<line x1="109.3" y1="452.5" x2="114.5" y2="452.5" stroke="rgb(163,0,40)" stroke-width="1.3"/>
<rect x="110.2" y="450.8" width="3.4" height="3.4" fill="rgb(163,0,40)"/>
<text x="118.3" y="455.4" font-size="8.1" text-anchor="start" font-weight="normal">GM-CSF</text>
<text x="180.3" y="347.6" font-size="11" font-weight="bold" style="stroke-width:0.45px">G</text>
<text x="275" y="359.3" font-size="9.8" text-anchor="middle" textLength="19.40" lengthAdjust="spacingAndGlyphs">A2ar</text>
<rect x="249" y="422.7" width="19.9" height="42.5" fill="rgb(107,170,222)"/>
<rect x="308.3" y="460.5" width="19.9" height="4.7" fill="rgb(163,0,40)"/>
<line x1="216.5" y1="373.8" x2="216.5" y2="465.8" stroke="#000" stroke-width="1.3"/>
<line x1="213.5" y1="375.8" x2="216.5" y2="375.8" stroke="#000" stroke-width="1.0"/>
<text x="210" y="378.55" font-size="8.2" text-anchor="end" textLength="10.84" lengthAdjust="spacingAndGlyphs">0.5</text>
<line x1="213.5" y1="393.68" x2="216.5" y2="393.68" stroke="#000" stroke-width="1.0"/>
<text x="210" y="396.43" font-size="8.2" text-anchor="end" textLength="10.84" lengthAdjust="spacingAndGlyphs">0.4</text>
<line x1="213.5" y1="411.56" x2="216.5" y2="411.56" stroke="#000" stroke-width="1.0"/>
<text x="210" y="414.31" font-size="8.2" text-anchor="end" textLength="10.84" lengthAdjust="spacingAndGlyphs">0.3</text>
<line x1="213.5" y1="429.44" x2="216.5" y2="429.44" stroke="#000" stroke-width="1.0"/>
<text x="210" y="432.19" font-size="8.2" text-anchor="end" textLength="10.84" lengthAdjust="spacingAndGlyphs">0.2</text>
<line x1="213.5" y1="447.32" x2="216.5" y2="447.32" stroke="#000" stroke-width="1.0"/>
<text x="210" y="450.07" font-size="8.2" text-anchor="end" textLength="10.84" lengthAdjust="spacingAndGlyphs">0.1</text>
<line x1="213.5" y1="465.2" x2="216.5" y2="465.2" stroke="#000" stroke-width="1.0"/>
<text x="210" y="467.95" font-size="8.2" text-anchor="end" textLength="10.84" lengthAdjust="spacingAndGlyphs">0.0</text>
<line x1="215.9" y1="465.2" x2="334.2" y2="465.2" stroke="#000" stroke-width="1.3"/>
<g transform="translate(193.3 430.9) rotate(-90)">
<text x="-0.3" y="0" font-size="9.2" style="stroke-width:0.3px" textLength="4.3" lengthAdjust="spacingAndGlyphs">2</text>
<path d="M4.9 -3.5 L6.7 -6.6 L8.5 -3.5" fill="none" stroke="#000" style="stroke-width:1.05px"/>
<path d="M10.1 -2.7 H11.6" fill="none" stroke="#000" style="stroke-width:1.0px"/>
<text x="11.7" y="0" font-size="9.2" style="stroke-width:0.3px" textLength="12.6" lengthAdjust="spacingAndGlyphs">dCT</text>
</g>
<line x1="232.3" y1="465.2" x2="232.3" y2="468" stroke="#000" stroke-width="1.0"/>
<text x="234.9" y="474.8" font-size="7.4" text-anchor="end" font-weight="normal" transform="rotate(-45 234.9 474.8)">Naive</text>
<line x1="258.9" y1="465.2" x2="258.9" y2="468" stroke="#000" stroke-width="1.0"/>
<text x="261.5" y="474.8" font-size="7.4" text-anchor="end" font-weight="normal" transform="rotate(-45 261.5 474.8)">LPS</text>
<line x1="291.6" y1="465.2" x2="291.6" y2="468" stroke="#000" stroke-width="1.0"/>
<text x="294.2" y="474.8" font-size="7.4" text-anchor="end" font-weight="normal" transform="rotate(-45 294.2 474.8)">Naive</text>
<line x1="318.3" y1="465.2" x2="318.3" y2="468" stroke="#000" stroke-width="1.0"/>
<text x="320.9" y="474.8" font-size="7.4" text-anchor="end" font-weight="normal" transform="rotate(-45 320.9 474.8)">LPS</text>
<rect x="225.8" y="463.3" width="13" height="3.6" rx="1.6" fill="#000"/>
<circle cx="256.3" cy="396.6" r="1.85" fill="#000"/>
<circle cx="262" cy="397.1" r="1.85" fill="#000"/>
<circle cx="258.9" cy="408.8" r="1.85" fill="#000"/>
<circle cx="256.3" cy="434.8" r="1.85" fill="#000"/>
<circle cx="262" cy="439.5" r="1.85" fill="#000"/>
<circle cx="258.9" cy="457.4" r="1.85" fill="#000"/>
<line x1="258.9" y1="412.2" x2="258.9" y2="432.2" stroke="#000" stroke-width="1.1"/>
<line x1="253.9" y1="412.2" x2="263.9" y2="412.2" stroke="#000" stroke-width="1.1"/>
<line x1="253.9" y1="432.2" x2="263.9" y2="432.2" stroke="#000" stroke-width="1.1"/>
<rect x="284.9" y="463.4" width="13.6" height="3.5" rx="0.8" fill="#000"/>
<rect x="308.65" y="456.95" width="3.1" height="3.1" fill="#000"/>
<rect x="322.05" y="453.25" width="3.1" height="3.1" fill="#000"/>
<rect x="316.75" y="457.45" width="3.1" height="3.1" fill="#000"/>
<rect x="311.35" y="460.95" width="3.1" height="3.1" fill="#000"/>
<rect x="319.95" y="460.95" width="3.1" height="3.1" fill="#000"/>
<rect x="316.75" y="463.25" width="3.1" height="3.1" fill="#000"/>
<rect x="324.55" y="461.45" width="3.1" height="3.1" fill="#000"/>
<rect x="308.25" y="460.45" width="3.1" height="3.1" fill="#000"/>
<line x1="318.3" y1="458.5" x2="318.3" y2="462.5" stroke="#000" stroke-width="1.1"/>
<line x1="313.8" y1="458.5" x2="322.8" y2="458.5" stroke="#000" stroke-width="1.1"/>
<line x1="313.8" y1="462.5" x2="322.8" y2="462.5" stroke="#000" stroke-width="1.1"/>
<path d="M261.5 383.6 V380.4 H323.5 V383.6" fill="none" stroke="#111" stroke-width="1.0"/>
<text x="292.5" y="379.6" font-size="7.8" text-anchor="middle" font-weight="normal">****</text>
<text x="352.2" y="347.6" font-size="11" font-weight="bold" style="stroke-width:0.45px">H</text>
<text x="446.6" y="359.3" font-size="9.8" text-anchor="middle" textLength="19.70" lengthAdjust="spacingAndGlyphs">A2br</text>
<rect x="394.2" y="425.7" width="19.4" height="39.4" fill="rgb(107,170,222)"/>
<rect x="420.6" y="425" width="19.8" height="40.1" fill="rgb(107,170,222)"/>
<rect x="453" y="434.6" width="20.1" height="30.5" fill="rgb(163,0,40)"/>
<rect x="479.8" y="440.4" width="19.9" height="24.7" fill="rgb(163,0,40)"/>
<line x1="387.9" y1="373.2" x2="387.9" y2="465.7" stroke="#000" stroke-width="1.3"/>
<line x1="384.9" y1="375.6" x2="387.9" y2="375.6" stroke="#000" stroke-width="1.0"/>
<text x="381.5" y="378.35" font-size="8.2" text-anchor="end" textLength="15.18" lengthAdjust="spacingAndGlyphs">0.15</text>
<line x1="384.9" y1="405.43" x2="387.9" y2="405.43" stroke="#000" stroke-width="1.0"/>
<text x="381.5" y="408.18" font-size="8.2" text-anchor="end" textLength="15.18" lengthAdjust="spacingAndGlyphs">0.10</text>
<line x1="384.9" y1="435.27" x2="387.9" y2="435.27" stroke="#000" stroke-width="1.0"/>
<text x="381.5" y="438.02" font-size="8.2" text-anchor="end" textLength="15.18" lengthAdjust="spacingAndGlyphs">0.05</text>
<line x1="384.9" y1="465.1" x2="387.9" y2="465.1" stroke="#000" stroke-width="1.0"/>
<text x="381.5" y="467.85" font-size="8.2" text-anchor="end" textLength="15.18" lengthAdjust="spacingAndGlyphs">0.00</text>
<line x1="387.3" y1="465.1" x2="505.6" y2="465.1" stroke="#000" stroke-width="1.3"/>
<g transform="translate(360.4 431) rotate(-90)">
<text x="-0.3" y="0" font-size="9.2" style="stroke-width:0.3px" textLength="4.3" lengthAdjust="spacingAndGlyphs">2</text>
<path d="M4.9 -3.5 L6.7 -6.6 L8.5 -3.5" fill="none" stroke="#000" style="stroke-width:1.05px"/>
<path d="M10.1 -2.7 H11.6" fill="none" stroke="#000" style="stroke-width:1.0px"/>
<text x="11.7" y="0" font-size="9.2" style="stroke-width:0.3px" textLength="12.6" lengthAdjust="spacingAndGlyphs">dCT</text>
</g>
<line x1="404" y1="465.1" x2="404" y2="467.9" stroke="#000" stroke-width="1.0"/>
<text x="406.6" y="474.7" font-size="7.4" text-anchor="end" font-weight="normal" transform="rotate(-45 406.6 474.7)">Naive</text>
<line x1="430.6" y1="465.1" x2="430.6" y2="467.9" stroke="#000" stroke-width="1.0"/>
<text x="433.2" y="474.7" font-size="7.4" text-anchor="end" font-weight="normal" transform="rotate(-45 433.2 474.7)">LPS</text>
<line x1="463.1" y1="465.1" x2="463.1" y2="467.9" stroke="#000" stroke-width="1.0"/>
<text x="465.7" y="474.7" font-size="7.4" text-anchor="end" font-weight="normal" transform="rotate(-45 465.7 474.7)">Naive</text>
<line x1="489.6" y1="465.1" x2="489.6" y2="467.9" stroke="#000" stroke-width="1.0"/>
<text x="492.2" y="474.7" font-size="7.4" text-anchor="end" font-weight="normal" transform="rotate(-45 492.2 474.7)">LPS</text>
<circle cx="404" cy="397.9" r="1.85" fill="#000"/>
<circle cx="404" cy="420" r="1.85" fill="#000"/>
<circle cx="404" cy="429.6" r="1.85" fill="#000"/>
<circle cx="398.8" cy="433.5" r="1.85" fill="#000"/>
<circle cx="409.2" cy="433.5" r="1.85" fill="#000"/>
<circle cx="404" cy="437.9" r="1.85" fill="#000"/>
<line x1="404" y1="419.7" x2="404" y2="431.4" stroke="#000" stroke-width="1.1"/>
<line x1="399" y1="419.7" x2="409" y2="419.7" stroke="#000" stroke-width="1.1"/>
<line x1="399" y1="431.4" x2="409" y2="431.4" stroke="#000" stroke-width="1.1"/>
<circle cx="430.8" cy="389.4" r="1.85" fill="#000"/>
<circle cx="430.8" cy="397.9" r="1.85" fill="#000"/>
<circle cx="430.8" cy="427" r="1.85" fill="#000"/>
<circle cx="428" cy="443.4" r="1.85" fill="#000"/>
<circle cx="430.8" cy="449.1" r="1.85" fill="#000"/>
<circle cx="433.5" cy="443.4" r="1.85" fill="#000"/>
<line x1="430.8" y1="414.8" x2="430.8" y2="435.6" stroke="#000" stroke-width="1.1"/>
<line x1="425.8" y1="414.8" x2="435.8" y2="414.8" stroke="#000" stroke-width="1.1"/>
<line x1="425.8" y1="435.6" x2="435.8" y2="435.6" stroke="#000" stroke-width="1.1"/>
<rect x="461.3" y="380.9" width="3.6" height="3.6" fill="#000"/>
<rect x="456" y="438.3" width="3.6" height="3.6" fill="#000"/>
<rect x="466.8" y="437.6" width="3.6" height="3.6" fill="#000"/>
<rect x="461.2" y="440" width="3.6" height="3.6" fill="#000"/>
<rect x="464.4" y="447.2" width="3.6" height="3.6" fill="#000"/>
<rect x="459.3" y="450.8" width="3.6" height="3.6" fill="#000"/>
<line x1="463.1" y1="423.9" x2="463.1" y2="444.9" stroke="#000" stroke-width="1.1"/>
<line x1="458.1" y1="423.9" x2="468.1" y2="423.9" stroke="#000" stroke-width="1.1"/>
<line x1="458.1" y1="444.9" x2="468.1" y2="444.9" stroke="#000" stroke-width="1.1"/>
<rect x="487.6" y="400.1" width="3.6" height="3.6" fill="#000"/>
<rect x="485.2" y="441.5" width="3.6" height="3.6" fill="#000"/>
<rect x="490.4" y="442.4" width="3.6" height="3.6" fill="#000"/>
<rect x="482.8" y="446.7" width="3.6" height="3.6" fill="#000"/>
<rect x="487.6" y="449.8" width="3.6" height="3.6" fill="#000"/>
<rect x="493.6" y="449.8" width="3.6" height="3.6" fill="#000"/>
<line x1="489.6" y1="432.2" x2="489.6" y2="448.5" stroke="#000" stroke-width="1.1"/>
<line x1="484.6" y1="432.2" x2="494.6" y2="432.2" stroke="#000" stroke-width="1.1"/>
<line x1="484.6" y1="448.5" x2="494.6" y2="448.5" stroke="#000" stroke-width="1.1"/>
<path d="M431.5 378.4 V375.8 H494.2 V378.4" fill="none" stroke="#111" stroke-width="1.0"/>
<text x="462.85" y="371.4" font-size="7.8" text-anchor="middle" font-weight="normal">ns</text>
<rect x="0.5" y="0.5" width="519" height="500" fill="none" stroke="#000" stroke-width="1"/>
</svg></body></html>
